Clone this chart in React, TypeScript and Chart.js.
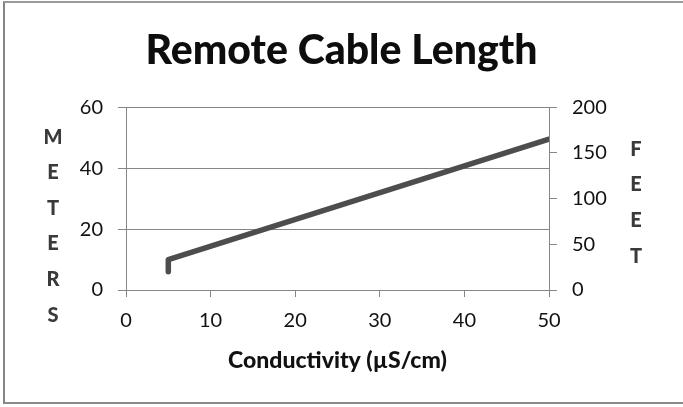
import React, { useEffect, useRef } from "react";
import { Chart, registerables } from "chart.js";

Chart.register(...registerables);

const TITLE = "Remote Cable Length";
const X_TITLE = "Conductivity (µS/cm)";
const LEFT_LETTERS = ["M", "E", "T", "E", "R", "S"];
const RIGHT_LETTERS = ["F", "E", "E", "T"];

const CONDUCTIVITY = [5, 5, 50];
const METERS = [6, 10, 49.5];

const X_MIN = 0;
const X_MAX = 50;
const X_STEP = 10;
const LEFT_MIN = 0;
const LEFT_MAX = 60;
const LEFT_STEP = 20;
const RIGHT_MIN = 0;
const RIGHT_MAX = 200;
const RIGHT_STEP = 50;

const FONT = "Lato, 'Open Sans', sans-serif";
const GRID = "#868686";
const LINE = "#4d4d4d";

export default function App() {
  const ref = useRef<HTMLCanvasElement>(null);

  useEffect(() => {
    const letters = {
      id: "axisLetters",
      afterDraw(chart: any) {
        const { ctx, chartArea } = chart;
        ctx.save();
        ctx.font = `900 20px ${FONT}`;
        ctx.fillStyle = "#3a3a3a";
        ctx.textAlign = "center";
        ctx.textBaseline = "middle";
        LEFT_LETTERS.forEach((l, i) => {
          ctx.fillText(l, 53, chartArea.top + 30 + i * 35.6);
        });
        RIGHT_LETTERS.forEach((l, i) => {
          ctx.fillText(l, 636, chartArea.top + 42 + i * 35.7);
        });
        ctx.restore();
      },
    };

    const data = CONDUCTIVITY.map((x, i) => ({ x, y: METERS[i] }));

    const chart = new Chart(ref.current!, {
      type: "scatter",
      data: {
        datasets: [
          {
            label: "Meters",
            data,
            showLine: true,
            borderColor: LINE,
            backgroundColor: LINE,
            borderWidth: 5.5,
            borderCapStyle: "round",
            borderJoinStyle: "round",
            pointRadius: 0,
            yAxisID: "y",
          } as any,
        ],
      },
      options: {
        responsive: false,
        animation: false,
        layout: { padding: 0 },
        plugins: {
          legend: { display: false },
          tooltip: { enabled: false },
          title: {
            display: true,
            text: TITLE,
            color: "#0d0d0d",
            font: { family: FONT, size: 41, weight: "900", lineHeight: 1.2 },
            padding: { top: 26, bottom: 32 },
          },
        },
        scales: {
          x: {
            type: "linear",
            min: X_MIN,
            max: X_MAX,
            afterFit: (s: any) => {
              s.height = 117;
            },
            ticks: {
              stepSize: X_STEP,
              color: "#111",
              padding: 12,
              font: { family: FONT, size: 20 },
              maxRotation: 0,
            },
            grid: {
              drawOnChartArea: false,
              drawTicks: true,
              tickLength: 7,
              color: GRID,
            },
            border: { display: true, color: GRID, width: 1 },
            title: {
              display: true,
              text: X_TITLE,
              color: "#111",
              font: { family: FONT, size: 23, weight: "900", lineHeight: 1.2 },
              padding: { top: 0, bottom: 33 },
            },
          },
          y: {
            type: "linear",
            position: "left",
            min: LEFT_MIN,
            max: LEFT_MAX,
            afterFit: (s: any) => {
              s.width = 126;
            },
            ticks: {
              stepSize: LEFT_STEP,
              color: "#111",
              padding: 15,
              font: { family: FONT, size: 20 },
            },
            grid: {
              drawOnChartArea: true,
              drawTicks: true,
              tickLength: 8,
              color: GRID,
            },
            border: { display: true, color: GRID, width: 1 },
          },
          y2: {
            type: "linear",
            position: "right",
            min: RIGHT_MIN,
            max: RIGHT_MAX,
            afterFit: (s: any) => {
              s.width = 134;
            },
            ticks: {
              stepSize: RIGHT_STEP,
              color: "#111",
              padding: 15,
              font: { family: FONT, size: 20 },
            },
            grid: {
              drawOnChartArea: false,
              drawTicks: true,
              tickLength: 8,
              color: GRID,
            },
            border: { display: true, color: GRID, width: 1 },
          },
        },
      },
      plugins: [letters],
    });

    return () => chart.destroy();
  }, []);

  return (
    <div
      style={{
        position: "absolute",
        left: 0,
        top: 0,
        width: 683,
        height: 407,
        overflow: "hidden",
        background: "#fff",
      }}
    >
      <div
        style={{
          position: "absolute",
          left: 3,
          top: 1,
          width: 700,
          height: 403,
          boxSizing: "border-box",
          borderLeft: "2px solid #858585",
          borderTop: "2px solid #9a9a9a",
          borderBottom: "2px solid #8a8a8a",
        }}
      />
      <canvas
        ref={ref}
        width={683}
        height={407}
        style={{ position: "absolute", left: 0, top: 0 }}
      />
    </div>
  );
}
